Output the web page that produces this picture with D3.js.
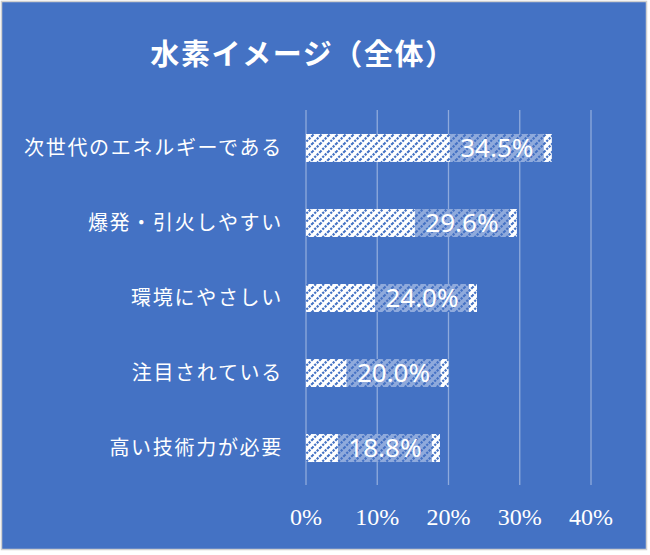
<!DOCTYPE html>
<html lang="ja">
<head>
<meta charset="UTF-8">
<title>水素イメージ（全体）</title>
<style>
  body { margin: 0; background: #ffffff; }
  .cat { font-family: 'Noto Sans CJK JP', sans-serif; font-size: 20px; fill: #ffffff; letter-spacing: 1.7px; }
  .val { font-family: 'Noto Sans', sans-serif; font-size: 26px; fill: #ffffff; }
  .tick { font-family: 'Liberation Serif', serif; font-size: 24px; fill: #ffffff; }
  .title { font-family: 'Noto Sans CJK JP', sans-serif; font-size: 29px; font-weight: 700; fill: #ffffff; letter-spacing: 1.6px; }
</style>
</head>
<body>
<div id="vis"></div>
<script src="https://d3js.org/d3.v7.min.js"></script>
<script>
const categories = ["次世代のエネルギーである", "爆発・引火しやすい", "環境にやさしい", "注目されている", "高い技術力が必要"];
const values = [34.5, 29.6, 24.0, 20.0, 18.8];
const ticks = [0, 10, 20, 30, 40];
const title = "水素イメージ（全体）";

const width = 650;
const height = 555;

let svg = d3.select("#vis").append("svg")
    .attr("width", width)
    .attr("height", height);

// hatch pattern (dotted diagonal stripes)
let defs = svg.append("defs");
let pat = defs.append("pattern")
    .attr("id", "hatch")
    .attr("patternUnits", "userSpaceOnUse")
    .attr("width", 8)
    .attr("height", 8);
pat.append("rect").attr("width", 8).attr("height", 8).attr("fill", "#ffffff");
pat.append("path")
    .attr("d", "M-1,1 l2,-2 M0,8 l8,-8 M7,9 l2,-2")
    .attr("stroke", "#4472c4")
    .attr("stroke-width", 2.2)
    .attr("stroke-dasharray", "2.2,1.2");

svg.append("rect")
    .attr("x", 1.5).attr("y", 1.5)
    .attr("width", 645).attr("height", 548)
    .attr("fill", "#4472c4")
    .attr("stroke", "#d0d0d0")
    .attr("stroke-width", 1.5);

let xScale = d3.scaleLinear()
    .domain([0, 40])
    .range([306, 591]);

let yScale = d3.scaleBand()
    .domain(categories)
    .range([110.5, 485.5])
    .paddingInner(0.627)
    .paddingOuter(0.313);

// gridlines
svg.selectAll(".grid")
  .data(ticks)
  .enter().append("line")
    .attr("class", "grid")
    .attr("x1", d => xScale(d))
    .attr("x2", d => xScale(d))
    .attr("y1", 110)
    .attr("y2", 485)
    .attr("stroke", "#8faadc")
    .attr("stroke-width", 1.3);

// tick labels
svg.selectAll(".tick")
  .data(ticks)
  .enter().append("text")
    .attr("class", "tick")
    .attr("x", d => xScale(d))
    .attr("y", 525)
    .attr("text-anchor", "middle")
    .text(d => d + "%");

// bars
svg.selectAll(".bar")
  .data(values)
  .enter().append("rect")
    .attr("class", "bar")
    .attr("x", xScale(0))
    .attr("y", (d, i) => yScale(categories[i]))
    .attr("width", d => xScale(d) - xScale(0))
    .attr("height", yScale.bandwidth())
    .attr("fill", "url(#hatch)");

// label boxes
svg.selectAll(".lbox")
  .data(values)
  .enter().append("rect")
    .attr("class", "lbox")
    .attr("x", d => xScale(d) - 8 - 94)
    .attr("y", (d, i) => yScale(categories[i]))
    .attr("width", 94)
    .attr("height", yScale.bandwidth())
    .attr("fill", "#4472c4")
    .attr("fill-opacity", 0.6);

svg.selectAll(".val")
  .data(values)
  .enter().append("text")
    .attr("class", "val")
    .attr("x", d => xScale(d) - 8 - 47)
    .attr("y", (d, i) => yScale(categories[i]) + yScale.bandwidth() / 2)
    .attr("dy", "0.36em")
    .attr("text-anchor", "middle")
    .text(d => d.toFixed(1) + "%");

// category labels
svg.selectAll(".cat")
  .data(categories)
  .enter().append("text")
    .attr("class", "cat")
    .attr("x", 283)
    .attr("y", d => yScale(d) + yScale.bandwidth() / 2)
    .attr("dy", "0.35em")
    .attr("text-anchor", "end")
    .text(d => d);

svg.append("text")
    .attr("class", "title")
    .attr("x", 303)
    .attr("y", 55)
    .attr("dy", "0.35em")
    .attr("text-anchor", "middle")
    .text(title);
</script>
</body>
</html>
